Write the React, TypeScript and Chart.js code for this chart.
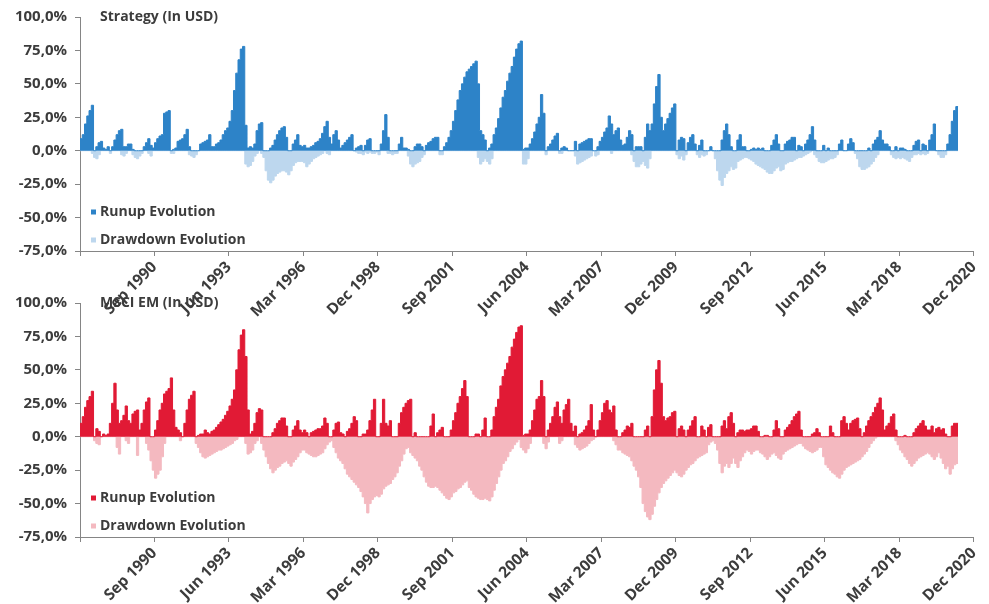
import React, { useEffect, useRef } from "react";
import { Chart, registerables } from "chart.js";

Chart.register(...registerables);

// Monthly series, first value = Jan 1988, last value = May 2020 (one row per year)
const xTickLabels = [
  "Sep 1990", "Jun 1993", "Mar 1996", "Dec 1998", "Sep 2001", "Jun 2004",
  "Mar 2007", "Dec 2009", "Sep 2012", "Jun 2015", "Mar 2018", "Dec 2020",
];
const monthsPerTick = 33; // Dec 1987 -> Sep 1990 -> ... -> Dec 2020
const yMin = -75;
const yMax = 100;
const yStep = 25;

const strategyRunup = [
  9, 12, 20, 26, 30, 34, 0, 3, 6, 7, 2, 1,
  3, 0, 3, 8, 12, 15, 16, 3, 3, 5, 5, 1,
  0, 0, 0, 0, 3, 6, 9, 4, 2, 6, 9, 11,
  12, 28, 29, 30, 0, 1, 2, 7, 8, 9, 12, 16,
  3, 0, 0, 0, 0, 5, 6, 7, 8, 12, 3, 3,
  5, 6, 8, 12, 15, 17, 22, 30, 45, 58, 68, 76,
  78, 19, 2, 3, 2, 5, 15, 20, 21, 0, 0, 0,
  2, 4, 8, 12, 15, 17, 18, 10, 0, 0, 5, 8,
  12, 4, 3, 4, 2, 2, 3, 4, 6, 7, 9, 13,
  18, 22, 10, 5, 12, 15, 8, 2, 4, 6, 8, 10,
  12, 0, 2, 3, 4, 0, 4, 8, 9, 0, 0, 0,
  0, 5, 15, 27, 10, 0, 0, 0, 0, 5, 10, 2,
  2, 1, 0, 0, 3, 5, 5, 3, 0, 4, 6, 7,
  9, 10, 10, 0, 0, 3, 6, 10, 15, 22, 30, 38,
  45, 50, 55, 59, 61, 63, 65, 67, 50, 15, 12, 8,
  0, 2, 5, 12, 17, 24, 32, 40, 45, 52, 58, 63,
  70, 76, 80, 82, 1, 2, 2, 5, 9, 14, 20, 25,
  42, 28, 0, 3, 5, 8, 11, 13, 0, 2, 3, 2,
  0, 0, 0, 7, 0, 5, 6, 7, 8, 9, 9, 0,
  0, 3, 7, 10, 14, 17, 26, 20, 12, 15, 17, 8,
  4, 5, 10, 15, 12, 0, 3, 3, 3, 0, 10, 20,
  15, 20, 35, 48, 57, 25, 15, 20, 24, 28, 32, 35,
  0, 8, 10, 9, 0, 6, 10, 12, 5, 0, 4, 8,
  0, 0, 0, 3, 0, 0, 0, 0, 8, 15, 20, 12,
  3, 0, 0, 8, 12, 3, 3, 0, 0, 1, 2, 1,
  2, 1, 2, 0, 0, 0, 4, 8, 12, 5, 0, 0,
  5, 7, 8, 10, 10, 0, 4, 3, 0, 5, 8, 12,
  18, 8, 0, 0, 0, 4, 0, 2, 0, 0, 0, 0,
  5, 8, 0, 0, 5, 9, 6, 0, 0, 0, 0, 0,
  0, 2, 0, 5, 8, 10, 15, 8, 5, 5, 3, 0,
  0, 3, 0, 2, 2, 1, 0, 0, 0, 4, 7, 8,
  0, 5, 4, 0, 8, 12, 20, 0, 0, 0, 0, 0,
  5, 12, 22, 30, 33,
];

const strategyDrawdown = [
  0, 0, 0, 0, 0, -2, -5, -6, -3, 0, 0, 0,
  0, -2, 0, 0, 0, 0, -3, -4, -2, 0, 0, -3,
  -5, -6, -4, -2, 0, 0, -2, -4, 0, 0, 0, 0,
  0, 0, 0, 0, -2, -2, 0, 0, 0, 0, 0, 0,
  -3, -4, -5, -3, 0, 0, 0, 0, 0, 0, 0, 0,
  0, 0, 0, 0, 0, 0, 0, 0, 0, 0, 0, 0,
  0, -10, -12, -11, -8, -4, -2, 0, -2, -5, -15, -22,
  -24, -22, -19, -17, -16, -15, -15, -16, -18, -15, -11, -9,
  -8, -8, -8, -9, -12, -10, -8, -6, -5, -4, -3, -2,
  0, -2, -3, 0, 0, 0, 0, 0, 0, 0, 0, 0,
  0, 0, -1, -2, -2, -3, -1, -2, -1, -2, -2, -1,
  -3, 0, 0, 0, -2, -2, -3, -2, -2, 0, 0, 0,
  0, -4, -10, -12, -10, -9, -8, -5, -3, 0, 0, 0,
  0, 0, 0, -3, -3, 0, 0, 0, 0, 0, 0, 0,
  0, 0, 0, 0, 0, 0, 0, 0, -5, -10, -8, -6,
  -8, -10, -6, 0, 0, 0, 0, 0, 0, 0, 0, 0,
  0, 0, 0, 0, -10, -10, -6, 0, 0, 0, 0, 0,
  0, 0, -3, 0, 0, 0, 0, 0, -2, -2, 0, 0,
  0, 0, 0, -4, -10, -9, -8, -7, -6, -5, -4, 0,
  -4, -3, 0, 0, 0, 0, 0, -2, 0, 0, 0, 0,
  0, 0, 0, 0, -3, -8, -12, -12, -10, -8, -11, -13,
  -6, 0, 0, 0, 0, 0, 0, 0, 0, 0, 0, 0,
  -3, -6, -4, -7, -3, 0, 0, 0, 0, -3, -5, -3,
  -4, -3, 0, 0, 0, -6, -15, -22, -26, -20, -17, -15,
  -12, -14, -13, -8, -7, -6, -5, -5, -6, -7, -8, -10,
  -11, -12, -13, -14, -16, -17, -17, -15, -13, -12, -15, -14,
  -10, -9, -8, -8, -7, -6, -5, -5, -4, -3, -2, -1,
  0, -3, -5, -8, -9, -9, -8, -7, -6, -6, -5, -3,
  0, 0, 0, 0, 0, 0, 0, -2, -6, -12, -14, -14,
  -13, -12, -10, -8, -5, -3, 0, 0, 0, 0, 0, -3,
  -5, -6, -5, -6, -5, -6, -7, -8, -5, -3, -3, -2,
  -3, -2, -3, -2, 0, 0, 0, 0, -3, -5, -5, -3,
  0, 0, 0, 0, 0,
];

const msciRunup = [
  10, 15, 22, 27, 30, 34, 0, 6, 4, 0, 2, 1,
  2, 10, 25, 40, 20, 10, 12, 16, 23, 12, 10, 17,
  19, 20, 5, 10, 20, 26, 29, 0, 0, 5, 12, 20,
  25, 32, 34, 36, 44, 20, 7, 5, 3, 0, 10, 20,
  28, 31, 34, 0, 1, 2, 2, 5, 3, 2, 4, 5,
  7, 9, 11, 13, 16, 19, 23, 28, 35, 50, 65, 76,
  80, 60, 20, 2, 4, 10, 18, 21, 20, 0, 0, 0,
  0, 3, 6, 10, 12, 14, 14, 8, 0, 0, 5, 8,
  12, 5, 3, 5, 3, 0, 3, 4, 5, 6, 6, 8,
  14, 10, 0, 0, 5, 10, 11, 3, 2, 0, 4, 6,
  10, 15, 12, 0, 0, 2, 2, 5, 12, 20, 28, 0,
  0, 10, 28, 10, 8, 12, 0, 0, 0, 10, 18, 22,
  25, 27, 28, 0, 3, 0, 0, 0, 0, 0, 0, 8,
  17, 0, 3, 5, 7, 0, 0, 0, 5, 12, 18, 25,
  30, 36, 42, 30, 0, 0, 0, 2, 2, 0, 5, 14,
  0, 0, 5, 15, 22, 28, 38, 45, 50, 55, 60, 67,
  73, 78, 82, 83, 1, 2, 2, 5, 12, 20, 28, 30,
  42, 30, 0, 5, 10, 15, 22, 26, 15, 10, 20, 24,
  28, 10, 4, 8, 0, 2, 3, 5, 8, 12, 24, 5,
  0, 5, 12, 18, 25, 27, 20, 18, 23, 5, 0, 0,
  3, 5, 8, 7, 10, 0, 0, 0, 0, 0, 5, 8,
  0, 15, 35, 50, 57, 40, 15, 12, 14, 15, 18, 19,
  0, 6, 8, 5, 0, 5, 8, 12, 15, 0, 0, 8,
  5, 0, 7, 9, 0, 0, 0, 0, 8, 12, 6, 15,
  18, 10, 0, 3, 5, 5, 4, 5, 5, 6, 8, 8,
  4, 0, 0, 1, 1, 0, 0, 5, 12, 6, 0, 0,
  5, 7, 9, 12, 15, 17, 19, 5, 0, 0, 0, 0,
  2, 3, 6, 3, 0, 0, 0, 0, 8, 3, 0, 0,
  0, 12, 15, 10, 5, 10, 12, 13, 14, 6, 0, 3,
  8, 12, 15, 18, 22, 25, 29, 20, 5, 8, 10, 15,
  17, 5, 0, 0, 0, 1, 0, 0, 0, 3, 6, 8,
  10, 12, 8, 5, 5, 8, 3, 6, 7, 5, 6, 2,
  0, 0, 8, 10, 10,
];

const msciDrawdown = [
  0, 0, 0, 0, 0, 0, -3, -5, -6, 0, 0, 0,
  0, 0, 0, 0, -8, -13, 0, 0, -3, -5, 0, 0,
  0, -14, 0, 0, 0, -5, -10, -18, -25, -31, -28, -25,
  -15, -5, 0, 0, 0, 0, 0, 0, -3, 0, 0, 0,
  0, 0, 0, -5, -8, -12, -15, -16, -15, -14, -13, -12,
  -11, -10, -10, -9, -8, -7, -6, -5, -3, -2, 0, 0,
  0, -5, -13, -12, -10, -5, -3, 0, -5, -10, -15, -20,
  -24, -27, -25, -23, -22, -20, -19, -18, -20, -22, -19, -17,
  -15, -12, -10, -10, -12, -13, -14, -15, -15, -14, -13, -12,
  -9, -6, -4, -3, -8, -12, -16, -18, -20, -24, -28, -30,
  -32, -34, -36, -38, -41, -45, -50, -57, -50, -47, -45, -44,
  -45, -43, -39, -37, -36, -35, -32, -30, -27, -22, -18, -13,
  -9, -8, -12, -14, -16, -18, -22, -25, -30, -34, -37, -38,
  -38, -37, -38, -40, -42, -44, -46, -47, -45, -42, -41, -39,
  -38, -36, -34, -33, -38, -40, -43, -45, -46, -47, -47, -46,
  -47, -48, -45, -40, -35, -30, -25, -20, -18, -15, -11, -9,
  -6, -4, -2, -8, -10, -12, -9, -5, 0, 0, 0, 0,
  0, -5, -9, -4, 0, 0, 0, 0, -5, -3, 0, 0,
  0, 0, 0, -6, -8, -10, -9, -8, -7, -5, -3, -2,
  0, 0, 0, 0, 0, 0, 0, 0, -3, -6, -10, -10,
  -12, -13, -14, -15, -18, -22, -25, -30, -38, -50, -56, -60,
  -62, -58, -52, -47, -42, -38, -35, -33, -31, -29, -27, -25,
  -27, -29, -30, -28, -25, -23, -21, -20, -18, -16, -15, -14,
  -13, -12, -6, -4, -3, -5, -10, -20, -27, -22, -20, -23,
  -20, -16, -20, -23, -18, -15, -12, -10, -11, -13, -11, -10,
  -10, -12, -13, -15, -17, -15, -13, -12, -14, -16, -17, -13,
  -11, -10, -9, -8, -7, -6, -5, -5, -7, -9, -10, -11,
  -12, -11, -10, -8, -8, -15, -21, -23, -25, -27, -28, -30,
  -31, -28, -25, -23, -22, -21, -20, -19, -18, -17, -15, -13,
  -11, -8, -5, -3, -1, 0, 0, 0, 0, 0, 0, 0,
  0, -3, -6, -10, -12, -15, -17, -20, -22, -20, -18, -16,
  -15, -14, -13, -12, -13, -15, -17, -15, -12, -16, -20, -24,
  -22, -28, -24, -21, -20,
];

const FONT = '"Open Sans", "DejaVu Sans", sans-serif';
const TEXT = "#3c3c3c";
const AXIS = "#858585";

type PanelProps = {
  top: number;
  title: string;
  runup: number[];
  drawdown: number[];
  runColor: string;
  ddColor: string;
};

function toPoints(values: number[]) {
  const pts = values.map((y, x) => ({ x, y }));
  pts.push({ x: values.length, y: values[values.length - 1] });
  return pts;
}

function Panel({ top, title, runup, drawdown, runColor, ddColor }: PanelProps) {
  const ref = useRef<HTMLCanvasElement | null>(null);

  useEffect(() => {
    const canvas = ref.current;
    if (!canvas) return;
    const overlay = {
      id: "overlay",
      afterDraw(chart: any) {
        const { ctx, chartArea } = chart;
        ctx.save();
        ctx.font = `700 14px ${FONT}`;
        ctx.textBaseline = "middle";
        ctx.textAlign = "left";
        const x0 = chartArea.left + 20;
        ctx.fillStyle = TEXT;
        ctx.fillText(title, x0, chartArea.top);
        const items: [string, string, number][] = [
          ["Runup Evolution", runColor, 195],
          ["Drawdown Evolution", ddColor, 223],
        ];
        items.forEach(([label, color, dy]) => {
          const y = chartArea.top + dy;
          ctx.fillStyle = color;
          ctx.fillRect(chartArea.left + 11, y - 2.5, 5, 5);
          ctx.fillStyle = TEXT;
          ctx.fillText(label, x0, y);
        });
        ctx.restore();
      },
    };

    const chart = new Chart(canvas, {
      type: "line",
      data: {
        datasets: [
          {
            label: "Runup Evolution",
            data: toPoints(runup),
            borderColor: runColor,
            backgroundColor: runColor,
            fill: "origin",
            stepped: true,
            pointRadius: 0,
            borderWidth: 1,
          },
          {
            label: "Drawdown Evolution",
            data: toPoints(drawdown),
            borderColor: ddColor,
            backgroundColor: ddColor,
            fill: "origin",
            stepped: true,
            pointRadius: 0,
            borderWidth: 1,
          },
        ],
      },
      options: {
        responsive: false,
        animation: false,
        events: [],
        layout: { padding: { top: 17, right: 11, left: 0, bottom: 0 } },
        plugins: {
          legend: { display: false },
          tooltip: { enabled: false },
        },
        scales: {
          x: {
            type: "linear",
            min: 0,
            max: monthsPerTick * xTickLabels.length,
            afterFit: (s: any) => {
              s.height = 67;
            },
            ticks: {
              stepSize: monthsPerTick,
              autoSkip: false,
              maxRotation: 45,
              minRotation: 45,
              padding: 2,
              color: TEXT,
              font: { family: FONT, size: 15.5, weight: "700" },
              callback: (v: any) => {
                const i = Math.round(Number(v) / monthsPerTick);
                return i > 0 ? xTickLabels[i - 1] : "";
              },
            },
            grid: { drawOnChartArea: false, drawTicks: true, tickLength: 5, color: AXIS },
            border: { display: true, color: AXIS },
          },
          y: {
            min: yMin,
            max: yMax,
            afterFit: (s: any) => {
              s.width = 80;
            },
            ticks: {
              stepSize: yStep,
              padding: 8,
              color: TEXT,
              font: { family: FONT, size: 15, weight: "700" },
              callback: (v: any) => Number(v).toFixed(1).replace(".", ",") + "%",
            },
            grid: { drawOnChartArea: false, drawTicks: true, tickLength: 5, color: AXIS },
            border: { display: true, color: AXIS },
          },
        },
      },
      plugins: [overlay],
    } as any);

    return () => chart.destroy();
  }, [title, runup, drawdown, runColor, ddColor]);

  return (
    <canvas
      ref={ref}
      width={989}
      height={318}
      style={{ position: "absolute", left: 0, top, width: 989, height: 318 }}
    />
  );
}

export default function App() {
  return (
    <div style={{ position: "absolute", left: 0, top: 0, width: 989, height: 604, background: "#ffffff" }}>
      <Panel
        top={0}
        title="Strategy (In USD)"
        runup={strategyRunup}
        drawdown={strategyDrawdown}
        runColor="#2d83c8"
        ddColor="#bdd7ee"
      />
      <Panel
        top={286}
        title="MSCI EM (In USD)"
        runup={msciRunup}
        drawdown={msciDrawdown}
        runColor="#e11a35"
        ddColor="#f4b9c0"
      />
    </div>
  );
}
